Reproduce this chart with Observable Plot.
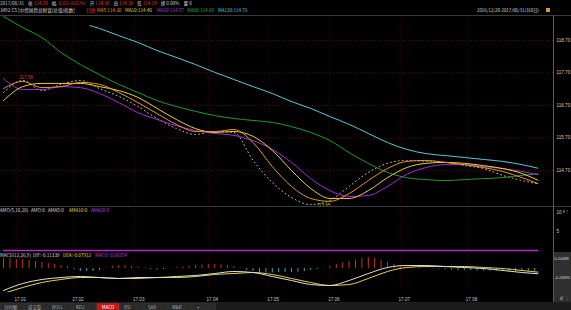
<!DOCTYPE html>
<html><head><meta charset="utf-8">
<script src="https://cdn.jsdelivr.net/npm/d3@7"></script>
<script src="https://cdn.jsdelivr.net/npm/@observablehq/plot@0.6"></script>
<style>
html,body{margin:0;padding:0;background:#000;}
#root{position:relative;width:571px;height:310px;background:#000;overflow:hidden;}
.abs{position:absolute;}
.abs svg{display:block;}
</style></head><body><div id="root"></div>
<script>
// ---------- data (trading-day index since 2016/12/28) ----------
const days = [0,6,12,18,24,30,36,42,48,54,60,66,72,78,84,90,96,102,108,114,120,126,132,138,144,150,156,162,167];
const close = [117.10,117.47,117.16,117.35,117.47,117.22,116.98,116.67,116.30,115.99,115.81,115.90,115.87,115.01,114.33,113.87,113.65,113.78,114.21,114.64,114.92,115.01,114.98,114.95,114.85,114.76,114.55,114.39,114.29];
const ma5 = [117.22,117.44,117.25,117.28,117.41,117.35,117.10,116.79,116.45,116.12,115.90,115.90,115.96,115.56,114.82,114.21,113.84,113.75,113.99,114.39,114.76,114.98,115.01,114.95,114.88,114.79,114.67,114.48,114.30];
const ma10 = [116.85,117.28,117.38,117.38,117.38,117.28,117.16,116.95,116.61,116.27,115.99,115.87,115.90,115.75,115.32,114.70,114.15,113.84,113.84,114.08,114.48,114.79,114.92,114.95,114.92,114.85,114.76,114.61,114.40];
const ma20 = [117.53,117.19,117.19,117.28,117.25,117.07,116.79,116.48,116.27,116.08,115.93,115.84,115.78,115.62,115.35,114.95,114.45,114.08,113.90,113.93,114.21,114.58,114.79,114.88,114.88,114.82,114.76,114.67,114.57];
const ma60 = [119.44,119.10,118.79,118.33,117.96,117.65,117.35,117.10,116.85,116.67,116.52,116.39,116.30,116.24,116.18,116.05,115.87,115.62,115.25,114.92,114.64,114.48,114.42,114.39,114.42,114.45,114.48,114.55,114.60];
const cyanDays = [27,30,36,42,48,54,60,66,72,78,84,90,96,102,108,114,120,126,132,138,144,150,156,162,167];
const ma120 = [119.16,119.07,118.85,118.64,118.39,118.18,117.96,117.72,117.50,117.28,117.07,116.82,116.61,116.36,116.12,115.84,115.56,115.35,115.22,115.16,115.10,115.04,114.98,114.88,114.77];
const dif = [-0.478,-0.326,-0.239,-0.196,-0.174,-0.196,-0.217,-0.196,-0.196,-0.174,-0.152,-0.109,-0.065,-0.087,-0.174,-0.261,-0.348,-0.370,-0.261,-0.109,0.022,0.065,0.065,0.043,0.022,0,-0.043,-0.087,-0.113];
const dea = [-0.543,-0.413,-0.304,-0.239,-0.196,-0.196,-0.217,-0.217,-0.196,-0.196,-0.174,-0.130,-0.109,-0.087,-0.130,-0.217,-0.304,-0.370,-0.348,-0.217,-0.065,0.022,0.043,0.043,0.043,0.022,0,-0.043,-0.079];
const histDays = d3.range(0, 167, 2);
const hist = [0.217,0.217,0.196,0.196,0.174,0.152,0.130,0.109,0.087,0.065,
  0.043,-0.022,-0.065,-0.065,-0.065,-0.043,0.011,0.043,0.065,0.065,
  0.043,0.033,0.011,-0.022,-0.033,-0.022,0.011,0.022,0.033,0.054,
  0.065,0.076,0.087,0.087,0.076,0.065,0.043,0.011,-0.043,-0.065,
  -0.087,-0.098,-0.098,-0.087,-0.087,-0.087,-0.076,-0.065,-0.043,-0.022,
  0.011,0.043,0.087,0.120,0.152,0.185,0.217,0.239,0.217,0.174,
  0.130,0.087,0.054,0.033,0.022,0.011,0.007,-0.007,-0.017,-0.026,
  -0.033,-0.039,-0.043,-0.048,-0.052,-0.055,-0.058,-0.060,-0.062,-0.064,
  -0.066,-0.067,-0.068,-0.069];
const amoDays = [0, 167];
const amo = [0, 0];
const priceTicks = [118.70,117.70,116.70,115.70,114.70];
const amoTicks = [10, 5];
const macdTicks = [0.20488, -0.20895];
const monthDays = [4,22,41,64,83,102,124,145];
const monthLabels = ["17.01","17.02","17.03","17.04","17.05","17.06","17.07","17.08"];
const highPt = {d: 4, v: 117.56};
const lowPt = {d: 97, v: 113.65};

// ---------- layout ----------
const W = 571, AXR = 18;
const xDom = [-0.9375, 171.875];
const root = document.getElementById("root");
const FONT = "'Liberation Sans','DejaVu Sans',sans-serif";
function place(node, top){ const d=document.createElement("div"); d.className="abs"; d.style.left="0px"; d.style.top=top+"px"; d.appendChild(node); root.appendChild(d); }
function box(l,t,w,h,bg){ const d=document.createElement("div"); d.className="abs"; Object.assign(d.style,{left:l+"px",top:t+"px",width:w+"px",height:h+"px",background:bg}); root.appendChild(d); }
const base = (h, yDom, mb=0) => ({width:W, height:h, marginLeft:0, marginRight:AXR, marginTop:0, marginBottom:mb,
  x:{domain:xDom, axis:null}, y:{domain:yDom, axis:null},
  style:{background:"transparent", color:"#cfcfcf", fontFamily:FONT, fontSize:"4.6px", overflow:"visible"}});
const grid = "#5a0c0c";

box(553, 252, 18, 50, "#2f2f2f");
box(0, 302, 571, 8, "#1c1c1c");

const rows = days.map((d,i)=>({d, close:close[i], ma5:ma5[i], ma10:ma10[i], ma20:ma20[i], ma60:ma60[i], dif:dif[i], dea:dea[i]}));
const cyanRows = cyanDays.map((d,i)=>({d, v:ma120[i]}));
const curve = "monotone-x";

const main = Plot.plot({...base(191, [113.592, 119.469]),
  marks:[
    Plot.ruleY(priceTicks, {stroke:grid, strokeDasharray:"1,2"}),
    Plot.ruleX(monthDays, {stroke:"#420808", strokeDasharray:"1,2"}),
    Plot.axisY(priceTicks, {anchor:"right", tickSize:0, tickPadding:3, tickFormat:d=>d.toFixed(2), fill:"#d0d0d0", fontSize:4.6}),
    Plot.line(rows, {x:"d", y:"close", stroke:"#bdbdbd", strokeWidth:1, strokeDasharray:"1,3", curve}),
    Plot.line(cyanRows, {x:"d", y:"v", stroke:"#5cc6de", strokeWidth:1, curve}),
    Plot.line(rows, {x:"d", y:"ma60", stroke:"#229a2e", strokeWidth:1, curve}),
    Plot.line(rows, {x:"d", y:"ma20", stroke:"#a82ad8", strokeWidth:1, curve}),
    Plot.line(rows, {x:"d", y:"ma10", stroke:"#e6d23c", strokeWidth:1, curve}),
    Plot.line(rows, {x:"d", y:"ma5", stroke:"#e8962a", strokeWidth:1, curve}),
    Plot.text([highPt], {x:"d", y:"v", text:d=>d.v.toFixed(2), fill:"#e8302c", textAnchor:"start", dx:3, fontSize:4.6}),
    Plot.text([lowPt], {x:"d", y:"v", text:d=>d.v.toFixed(2), fill:"#9ccc2c", textAnchor:"start", dx:3, dy:1, fontSize:4.6})
  ]});
place(main, 15);

const amoRows = amoDays.map((d,i)=>({d, v:amo[i]}));
const amoPlot = Plot.plot({...base(45, [-0.26, 11.58]),
  marks:[
    Plot.ruleX(monthDays, {stroke:"#420808", strokeDasharray:"1,2"}),
    Plot.axisY(amoTicks, {anchor:"right", tickSize:0, tickPadding:3, fill:"#d0d0d0", fontSize:4.6}),
    Plot.line(amoRows, {x:"d", y:"v", stroke:"#b02ad0", strokeWidth:1.3})
  ]});
place(amoPlot, 206);

const histRows = histDays.map((d,i)=>({d, v:hist[i]}));
const macdPlot = Plot.plot({...base(51, [-0.522, 0.370], 10),
  marks:[
    Plot.ruleX(monthDays, {stroke:"#420808", strokeDasharray:"1,2"}),
    Plot.ruleX(histRows, {x:"d", y1:0, y2:"v", stroke:d=>d.v>=0?"#c83030":"#3aa6b4", strokeWidth:1}),
    Plot.line(rows, {x:"d", y:"dea", stroke:"#e6d24a", strokeWidth:1, curve, clip:true}),
    Plot.line(rows, {x:"d", y:"dif", stroke:"#e0e0e0", strokeWidth:1, curve, clip:true}),
    Plot.axisY(macdTicks, {anchor:"right", tickSize:0, tickPadding:1, tickFormat:d=>String(d), fill:"#d8d8d8", fontSize:3.9}),
    Plot.axisX(monthDays, {anchor:"bottom", tickSize:0, tickPadding:5, dx:4, tickFormat:d=>monthLabels[monthDays.indexOf(d)], fill:"#c8c8c8", fontSize:4.6})
  ]});
place(macdPlot, 251);

// ---------- overlay: headers, separators, tabs ----------
const tabs = ["分时图","成交量","BOLL","KDJ","MACD","RSI","SAR","W&R","▪"];
let tabSvg = "";
tabs.forEach((t,i)=>{
  const x = i*24;
  const active = t==="MACD";
  tabSvg += `<rect x="${x+0.5}" y="303" width="23" height="7" fill="${active?"#c81818":"#2a2a2a"}" stroke="#3a3a3a" stroke-width="0.5"/>`;
  tabSvg += active ? `<text x="${x+12}" y="308.6" text-anchor="middle" fill="#fff" font-size="4.6">${t}</text>`
                   : `<text x="${x+4}" y="308.6" fill="#a8a8a8" font-size="4.4">${t}</text>`;
});
const ov = `
<svg width="571" height="310" xmlns="http://www.w3.org/2000/svg" style="font-family:'Noto Sans CJK SC','Liberation Sans',sans-serif">
 <line x1="0" y1="15.5" x2="571" y2="15.5" stroke="#3a3a3a"/>
 <line x1="0" y1="206.5" x2="571" y2="206.5" stroke="#3a3a3a"/>
 <line x1="553.5" y1="15" x2="553.5" y2="302" stroke="#5a5a5a"/>
 <text y="5" font-size="4.6" fill="#cfcfcf"><tspan x="0">2017/08/31</tspan>
  <tspan dx="3" fill="#cfcfcf">收</tspan><tspan dx="1" fill="#e8302c">114.29</tspan>
  <tspan dx="3" fill="#cfcfcf">幅</tspan><tspan dx="1" fill="#e8302c">-0.01(-0.01%)</tspan>
  <tspan dx="3" fill="#cfcfcf">开</tspan><tspan dx="1" fill="#e8302c">114.30</tspan>
  <tspan dx="3" fill="#cfcfcf">高</tspan><tspan dx="1" fill="#e8302c">114.30</tspan>
  <tspan dx="3" fill="#cfcfcf">低</tspan><tspan dx="1" fill="#e8302c">114.29</tspan>
  <tspan dx="3" fill="#cfcfcf">换</tspan><tspan dx="1">0.00%</tspan>
  <tspan dx="3">量</tspan><tspan dx="1">0</tspan></text>
 <text y="12" font-size="4.6">
  <tspan x="0" fill="#d8d8d8">3492.CS [中债国债总财富(总值)指数]</tspan>
  <tspan x="86" fill="#e8302c">日线</tspan>
  <tspan x="97" fill="#e8962a">MA5:114.30</tspan>
  <tspan x="125" fill="#e6d23c">MA10:114.40</tspan>
  <tspan x="157" fill="#b03ae0">MA20:114.57</tspan>
  <tspan x="187" fill="#2fb03a">MA60:114.60</tspan>
  <tspan x="218" fill="#5cc6de">MA120:114.76</tspan></text>
 <text x="477" y="12" font-size="4.4" fill="#d8d8d8">2016/12/28-2017/08/31(168日)</text>
 <rect x="546" y="8" width="4" height="4" fill="#c8a030"/>
 <text y="211.5" font-size="4.6">
  <tspan x="0" fill="#d8d8d8">AMO(5,10,20)</tspan>
  <tspan x="31" fill="#d8d8d8">AMO:0</tspan>
  <tspan x="48" fill="#d8d8d8">AMA5:0</tspan>
  <tspan x="69" fill="#e6d23c">AMA10:0</tspan>
  <tspan x="91" fill="#c03ad8">AMA20:0</tspan></text>
 <text y="257" font-size="4.6">
  <tspan x="0" fill="#d8d8d8">MACD(12,26,9)</tspan>
  <tspan x="33" fill="#d8d8d8">DIF:-0.11339</tspan>
  <tspan x="63" fill="#e6d23c">DEA:-0.07912</tspan>
  <tspan x="95" fill="#c03ad8">MACD:-0.06854</tspan></text>
 ${tabSvg}
</svg>`;
const ovDiv = document.createElement("div");
ovDiv.className = "abs"; ovDiv.style.left="0px"; ovDiv.style.top="0px"; ovDiv.style.pointerEvents="none";
ovDiv.innerHTML = ov;
root.appendChild(ovDiv);
</script></body></html>
